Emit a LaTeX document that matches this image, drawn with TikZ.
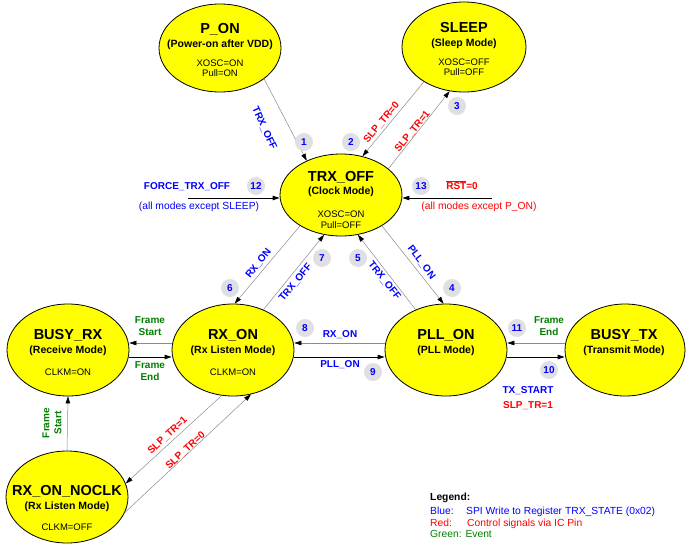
\documentclass[tikz,border=0pt]{standalone}
\usepackage{fontspec}
\setmainfont{Liberation Sans}
\usetikzlibrary{shapes.geometric,arrows.meta}
\definecolor{cblue}{RGB}{0,0,255}
\definecolor{cred}{RGB}{255,0,0}
\definecolor{cgreen}{RGB}{0,128,0}
\definecolor{cyel}{RGB}{255,255,0}
\definecolor{lgray}{RGB}{224,224,228}
\definecolor{lgrey}{RGB}{140,140,140}
\begin{document}
\begin{tikzpicture}[x=1pt,y=-1pt,
  stbox/.style={ellipse, draw=black, line width=0.8pt, fill=cyel, minimum width=122pt, minimum height=92pt, inner sep=0pt},
  ttl/.style={font=\fontsize{14.5}{15}\selectfont\bfseries, inner sep=0pt, text height=10.4pt, text depth=0pt},
  sub/.style={font=\fontsize{10.5}{11}\selectfont\bfseries, inner sep=0pt, text height=7.6pt, text depth=0pt},
  prop/.style={font=\fontsize{9.5}{10}\selectfont, inner sep=0pt, text height=6.8pt, text depth=0pt},
  lab/.style={font=\fontsize{10}{11}\selectfont\bfseries, inner sep=0pt, text height=7.2pt, text depth=0pt},
  rlab/.style={font=\fontsize{10.3}{11}\selectfont, inner sep=0pt, text height=7.4pt, text depth=0pt},
  grn/.style={font=\fontsize{10}{12}\selectfont\bfseries, inner sep=0pt, align=center, text=cgreen},
  num/.style={circle, fill=lgray, minimum size=18pt, inner sep=0pt, text=cblue, font=\fontsize{10}{11}\selectfont\bfseries},
  thinarr/.style={draw=lgrey, line width=0.5pt, -{Triangle[length=7pt,width=4.5pt,color=black]}},
  thickarr/.style={draw=black, line width=0.9pt, -{Triangle[length=7pt,width=4.5pt]}},
  leg/.style={font=\fontsize{10.3}{12}\selectfont, inner sep=0pt, anchor=west, text height=7.4pt, text depth=0pt},
]
\useasboundingbox[fill=white] (0,0) rectangle (687,552);

% states
\node[stbox, minimum height=88pt] (pon) at (220,48) {};
\node[stbox, minimum width=124pt, minimum height=90pt] (sleep) at (464,47) {};
\node[stbox, minimum height=82pt] (trx) at (341,195) {};
\node[stbox] (rxon) at (233,350) {};
\node[stbox] (pll) at (446,350) {};
\node[stbox] (busyrx) at (68,350) {};
\node[stbox, minimum width=120pt] (busytx) at (625,350) {};
\node[stbox] (noclk) at (67,497) {};

% state texts
\node[ttl] (pon1) at (220,28) {P\_ON};
\node[sub] (pon2) at (220,44) {(Power-on after VDD)};
\node[prop] (pon3) at (220,63) {XOSC=ON};
\node[prop] (pon4) at (220,73) {Pull=ON};

\node[ttl] (sl1) at (464,27) {SLEEP};
\node[sub] (sl2) at (464,43) {(Sleep Mode)};
\node[prop] (sl3) at (464,62) {XOSC=OFF};
\node[prop] (sl4) at (464,72) {Pull=OFF};

\node[ttl] (trx1) at (341,176) {TRX\_OFF};
\node[sub] (trx2) at (341,191) {(Clock Mode)};
\node[prop] (trx3) at (341,214) {XOSC=ON};
\node[prop] (trx4) at (341,225) {Pull=OFF};

\node[ttl] (rx1) at (233,334) {RX\_ON};
\node[sub] (rx2) at (233,350) {(Rx Listen Mode)};
\node[prop] (rx3) at (233,372) {CLKM=ON};

\node[ttl] (br1) at (68,334) {BUSY\_RX};
\node[sub] (br2) at (68,350) {(Receive Mode)};
\node[prop] (br3) at (68,372) {CLKM=ON};

\node[ttl] (pl1) at (446,334) {PLL\_ON};
\node[sub] (pl2) at (446,350) {(PLL Mode)};

\node[ttl] (bt1) at (624,334) {BUSY\_TX};
\node[sub] (bt2) at (624,350) {(Transmit Mode)};

\node[ttl] (nc1) at (67,490) {RX\_ON\_NOCLK};
\node[sub] (nc2) at (67,506) {(Rx Listen Mode)};
\node[prop] (nc3) at (67,527) {CLKM=OFF};

% free ends
\coordinate (c12) at (188,198);
\coordinate (c13) at (492,198);

% connectors
\draw[thinarr] (pon.-35) -- (trx.135);
\draw[thinarr] (sleep.-139) -- (trx.61);
\draw[thinarr] (trx.29) -- (sleep.-108);
\draw[thickarr] (c12) -- (c12 -| trx.west);
\draw[thickarr] (c13) -- (c13 -| trx.east);
\draw[thinarr] (trx.-143) -- (rxon.88);
\draw[thinarr] (rxon.53) -- (trx.-113);
\draw[thinarr] (pll.127) -- (trx.-67);
\draw[thinarr] (trx.-37) -- (pll.93);
\draw[thinarr] ([yshift=7pt]pll.west) -- ([yshift=7pt]rxon.east);
\draw[thickarr] ([yshift=-7pt]rxon.east) -- ([yshift=-7pt]pll.west);
\draw[thinarr] ([yshift=7pt]rxon.west) -- ([yshift=7pt]busyrx.east);
\draw[thickarr] ([yshift=-7pt]busyrx.east) -- ([yshift=-7pt]rxon.west);
\draw[thinarr] ([yshift=7pt]busytx.west) -- ([yshift=7pt]pll.east);
\draw[thickarr] ([yshift=-7pt]pll.east) -- ([yshift=-7pt]busytx.west);
\draw[thinarr] (noclk.north) -- (busyrx.south);
\draw[thinarr] (rxon.-104) -- (noclk.13);
\draw[thinarr] (noclk.-15) -- (rxon.-68);

% connector labels
\node[lab, text=cblue, rotate=-65] (l1) at (265,128) {TRX\_OFF};
\node[lab, text=cred, rotate=50] (l2) at (381,122) {SLP\_TR=0};
\node[lab, text=cred, rotate=51] (l3) at (412,131) {SLP\_TR=1};
\node[lab, text=cblue] (l12a) at (187,186) {FORCE\_TRX\_OFF};
\node[rlab, text=cblue] (l12b) at (199,206) {(all modes except SLEEP)};
\node[lab, text=cred] (l13a) at (462,186) {$\overline{\hbox{RST}}$=0};
\node[rlab, text=cred] (l13b) at (479,206) {(all modes except P\_ON)};
\node[lab, text=cblue, rotate=52] (l6) at (258,263) {RX\_ON};
\node[lab, text=cblue, rotate=51] (l7) at (295,282) {TRX\_OFF};
\node[lab, text=cblue, rotate=-51] (l5) at (385,280) {TRX\_OFF};
\node[lab, text=cblue, rotate=-53] (l4) at (422,262) {PLL\_ON};
\node[lab, text=cblue] (l8) at (340,334) {RX\_ON};
\node[lab, text=cblue] (l9) at (340,364) {PLL\_ON};
\node[grn] (lfs) at (150,326) {Frame\\Start};
\node[grn] (lfe) at (150,371) {Frame\\End};
\node[grn] (l11) at (549,326) {Frame\\End};
\node[lab, text=cblue] (l10a) at (528,390) {TX\_START};
\node[lab, text=cred] (l10b) at (528,405) {SLP\_TR=1};
\node[grn, rotate=90] (lvs) at (52,423) {Frame\\Start};
\node[lab, text=cred, rotate=43] (ls1) at (167,435) {SLP\_TR=1};
\node[lab, text=cred, rotate=43] (ls0) at (185,450) {SLP\_TR=0};

% numbers
\node[num] (n1) at (304,142) {1};
\node[num] (n2) at (351,142) {2};
\node[num] (n3) at (457,106) {3};
\node[num] (n12) at (256,186) {12};
\node[num] (n13) at (421,186) {13};
\node[num] (n6) at (230,288) {6};
\node[num] (n7) at (322,258) {7};
\node[num] (n5) at (358,258) {5};
\node[num] (n4) at (452,288) {4};
\node[num] (n8) at (305,328) {8};
\node[num] (n9) at (373,372) {9};
\node[num] (n11) at (517,328) {11};
\node[num] (n10) at (549,370) {10};

% legend
\node[leg, font=\fontsize{10.3}{12}\selectfont\bfseries] (lg0) at (430,497) {Legend:};
\node[leg, text=cblue] (lg1) at (430,511) {Blue:};
\node[leg, text=cblue] (lg1b) at (466,511) {SPI Write to Register TRX\_STATE (0x02)};
\node[leg, text=cred] (lg2) at (430,523) {Red:};
\node[leg, text=cred] (lg2b) at (467,523) {Control signals via IC Pin};
\node[leg, text=cgreen] (lg3) at (430,534) {Green: Event};
\end{tikzpicture}
\end{document}
